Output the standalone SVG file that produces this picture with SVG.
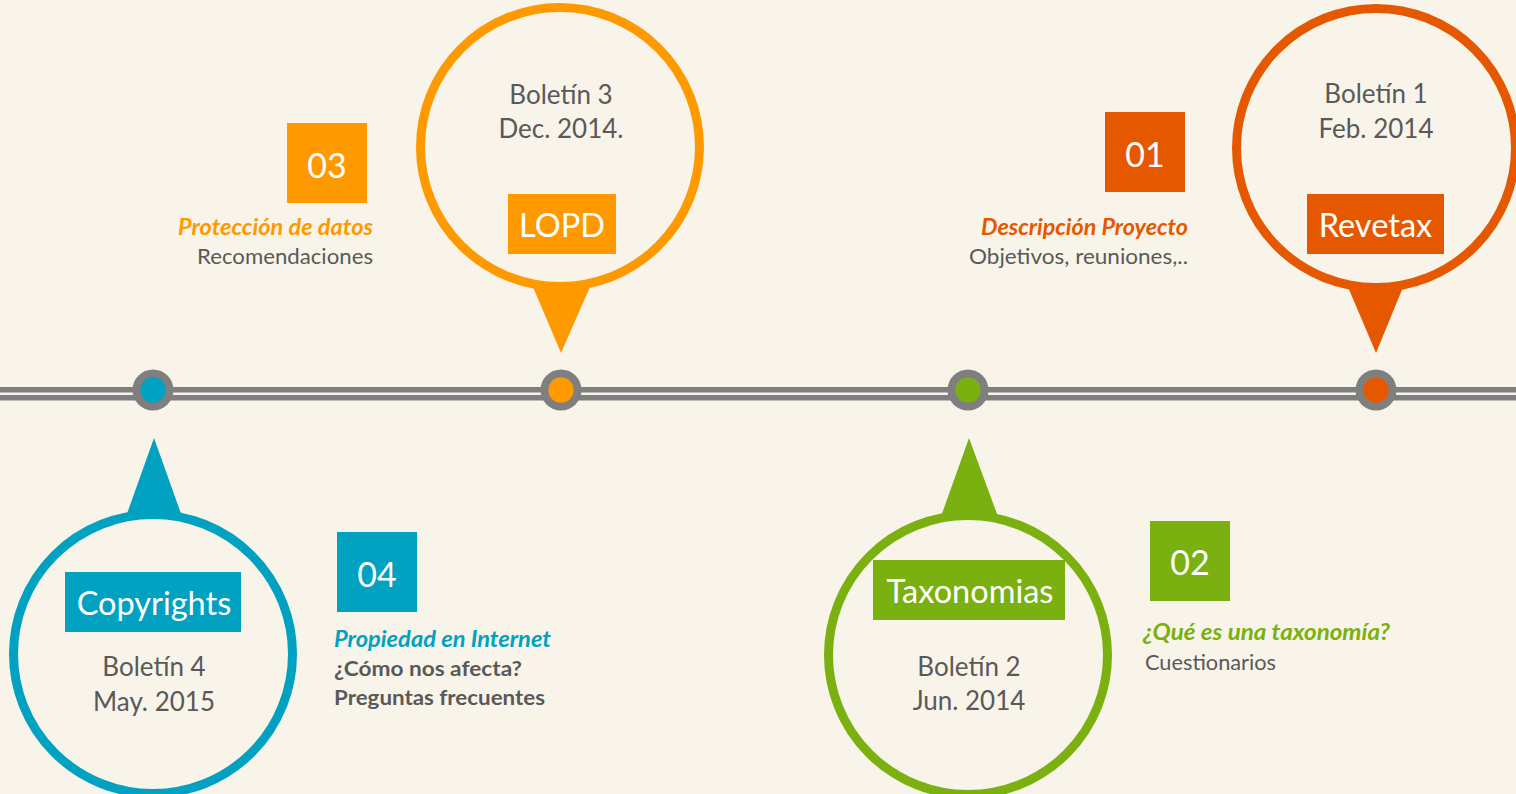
<svg xmlns="http://www.w3.org/2000/svg" width="1516" height="794" viewBox="0 0 1516 794">
<defs>
<style>
.bg{fill:#F8F4EA}
.ring{fill:#F8F4EA;stroke-width:9}
.lbl{font-family:Lato,"Open Sans",sans-serif;fill:#FFFFFF;font-size:32.5px;text-anchor:middle}
.num{font-family:Lato,"Open Sans",sans-serif;fill:#FFFFFF;font-size:34px;text-anchor:middle}
.date{font-family:Lato,"Open Sans",sans-serif;fill:#595959;font-size:26px;text-anchor:middle}
.ttl{font-family:Lato,"Open Sans",sans-serif;font-size:22px;font-weight:bold;font-style:italic}
.sub{font-family:Lato,"Open Sans",sans-serif;font-size:21.5px;fill:#595959}
.subb{font-family:Lato,"Open Sans",sans-serif;font-size:21.5px;fill:#595959;font-weight:bold}
.teal{fill:#00A1C1}.tealS{stroke:#00A1C1}
.orng{fill:#FF9900}.orngS{stroke:#FF9900}
.dorg{fill:#E65800}.dorgS{stroke:#E65800}
.grn{fill:#7AB010}.grnS{stroke:#7AB010}
.dotO{fill:#7F7F7F}
</style>
</defs>
<rect class="bg" x="0" y="0" width="1516" height="794"/>
<g id="connectors">
<rect x="0" y="387" width="1516" height="5.5" fill="#7F7F7F"/>
<rect x="0" y="395" width="1516" height="5.5" fill="#7F7F7F"/>
</g>
<g id="dots">
<circle class="dotO" cx="153" cy="390" r="20.5"/><circle class="teal" cx="153" cy="390" r="12.7"/>
<circle class="dotO" cx="561" cy="390" r="20.5"/><circle class="orng" cx="561" cy="390" r="12.7"/>
<circle class="dotO" cx="968" cy="390" r="20.5"/><circle class="grn" cx="968" cy="390" r="12.7"/>
<circle class="dotO" cx="1376" cy="390" r="20.5"/><circle class="dorg" cx="1376" cy="390" r="12.7"/>
</g>
<g id="node-boletin3">
<polygon class="orng" points="530,280 593,280 561,353"/>
<circle class="ring orngS" cx="560" cy="147" r="139.5"/>
<text class="date" x="561" y="104">Boletín 3</text>
<text class="date" x="561" y="138">Dec. 2014.</text>
<rect class="orng" x="508" y="194" width="108" height="60"/>
<text class="lbl" x="562" y="237">LOPD</text>
</g>
<g id="node-boletin1">
<polygon class="dorg" points="1345,280 1406,280 1376,353"/>
<circle class="ring dorgS" cx="1376" cy="148" r="139.5"/>
<text class="date" x="1376" y="103">Boletín 1</text>
<text class="date" x="1376" y="138">Feb. 2014</text>
<rect class="dorg" x="1307" y="194" width="137" height="60"/>
<text class="lbl" x="1375.5" y="237">Revetax</text>
</g>
<g id="node-boletin4">
<polygon class="teal" points="124,522 184,522 154,438"/>
<circle class="ring tealS" cx="153" cy="654" r="139.5"/>
<rect class="teal" x="65" y="572" width="176" height="60"/>
<text class="lbl" x="154" y="615">Copyrights</text>
<text class="date" x="154" y="676">Boletín 4</text>
<text class="date" x="154" y="711">May. 2015</text>
</g>
<g id="node-boletin2">
<polygon class="grn" points="939,522 1000,522 969,438"/>
<circle class="ring grnS" cx="968" cy="655" r="139.5"/>
<rect class="grn" x="873" y="560" width="192" height="60"/>
<text class="lbl" x="970" y="603">Taxonomias</text>
<text class="date" x="969" y="676">Boletín 2</text>
<text class="date" x="969" y="710">Jun. 2014</text>
</g>
<g id="node-03">
<rect class="orng" x="287" y="123" width="80" height="80"/>
<text class="num" x="327" y="178">03</text>
<text class="ttl orng" x="178" y="235" textLength="195" lengthAdjust="spacingAndGlyphs">Protección de datos</text>
<text class="sub" x="197" y="264" textLength="176" lengthAdjust="spacingAndGlyphs">Recomendaciones</text>
</g>
<g id="node-01">
<rect class="dorg" x="1105" y="112" width="80" height="80"/>
<text class="num" x="1145" y="167">01</text>
<text class="ttl dorg" x="981" y="235" textLength="207" lengthAdjust="spacingAndGlyphs">Descripción Proyecto</text>
<text class="sub" x="969" y="264" textLength="219" lengthAdjust="spacingAndGlyphs">Objetivos, reuniones,..</text>
</g>
<g id="node-04">
<rect class="teal" x="337" y="532" width="80" height="80"/>
<text class="num" x="377" y="587">04</text>
<text class="ttl teal" x="334" y="647" textLength="217" lengthAdjust="spacingAndGlyphs">Propiedad en Internet</text>
<text class="subb" x="334" y="676" textLength="188" lengthAdjust="spacingAndGlyphs">¿Cómo nos afecta?</text>
<text class="subb" x="334" y="705" textLength="211" lengthAdjust="spacingAndGlyphs">Preguntas frecuentes</text>
</g>
<g id="node-02">
<rect class="grn" x="1150" y="521" width="80" height="80"/>
<text class="num" x="1190" y="575">02</text>
<text class="ttl grn" x="1143" y="640" textLength="247" lengthAdjust="spacingAndGlyphs">¿Qué es una taxonomía?</text>
<text class="sub" x="1145" y="670" textLength="131" lengthAdjust="spacingAndGlyphs">Cuestionarios</text>
</g>
</svg>
